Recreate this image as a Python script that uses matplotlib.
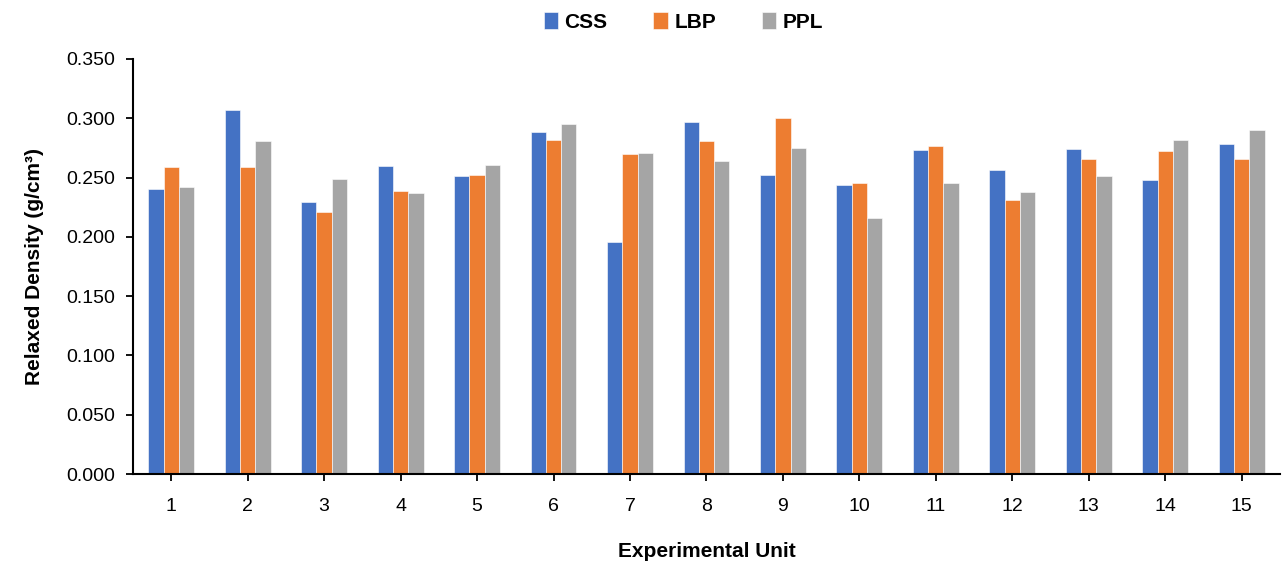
import matplotlib
matplotlib.use('Agg')
import matplotlib.pyplot as plt
import numpy as np

plt.rcParams['font.family'] = ['Liberation Sans', 'DejaVu Sans']

units = [str(i) for i in range(1, 16)]
css = [0.240, 0.307, 0.229, 0.260, 0.251, 0.288, 0.196, 0.297, 0.252, 0.244,
       0.273, 0.256, 0.274, 0.248, 0.278]
lbp = [0.259, 0.259, 0.221, 0.239, 0.252, 0.282, 0.270, 0.281, 0.300, 0.245,
       0.277, 0.231, 0.266, 0.272, 0.266]
ppl = [0.242, 0.281, 0.249, 0.237, 0.261, 0.295, 0.271, 0.264, 0.275, 0.216,
       0.245, 0.238, 0.251, 0.282, 0.290]

fig = plt.figure(figsize=(12.82, 5.66), dpi=100)
ax = fig.add_axes([0.1037, 0.1625, 0.8947, 0.7333])

x = np.arange(1, 16)
w = 0.2
ax.bar(x - w, css, w, color='#4472C4', edgecolor='white', linewidth=0.4, label='CSS')
ax.bar(x, lbp, w, color='#ED7D31', edgecolor='white', linewidth=0.4, label='LBP')
ax.bar(x + w, ppl, w, color='#A5A5A5', edgecolor='white', linewidth=0.4, label='PPL')

ax.set_xlim(0.5, 15.5)
ax.set_ylim(0, 0.35)
ax.set_yticks(np.arange(0, 0.351, 0.05))
ax.set_yticklabels([f'{v:.3f}' for v in np.arange(0, 0.351, 0.05)])
ax.set_xticks(x)
ax.set_xticklabels(units)
ax.tick_params(axis='both', labelsize=14, length=5, width=1.3, colors='black')
ax.tick_params(axis='x', pad=12)
ax.tick_params(axis='y', pad=8)

for s in ['top', 'right']:
    ax.spines[s].set_visible(False)
for s in ['left', 'bottom']:
    ax.spines[s].set_linewidth(1.5)

ax.set_xlabel('Experimental Unit', fontsize=15, fontweight='bold', labelpad=20)
ax.set_ylabel('Relaxed Density (g/cm³)', fontsize=15, fontweight='bold', labelpad=16)

fig.legend(loc='upper center', bbox_to_anchor=(0.533, 1.012), ncol=3, frameon=False,
           prop={'size': 15, 'weight': 'bold'}, handlelength=0.7, handleheight=0.9,
           columnspacing=2.2, handletextpad=0.3)

fig.savefig('out.png', dpi=100)
